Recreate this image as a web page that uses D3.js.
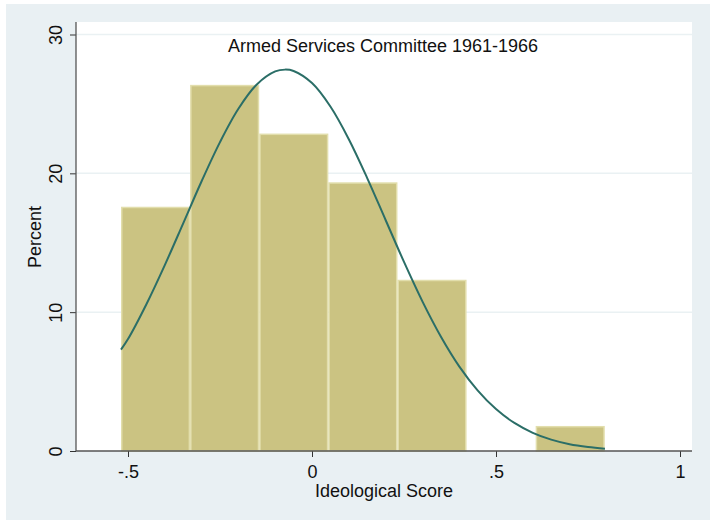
<!DOCTYPE html>
<html><head><meta charset="utf-8">
<script src="https://cdn.jsdelivr.net/npm/d3@7"></script>
<style>body{margin:0;background:#fff}svg{display:block}text{font-family:"Liberation Sans",Arial,sans-serif;fill:#111}</style>
</head><body>
<script>
const title = "Armed Services Committee 1961-1966";
const xLabel = "Ideological Score";
const yLabel = "Percent";
// histogram bins (left edges) and percents
const binStart = -0.519, binWidth = 0.1878;
const binPercents = [17.54, 26.32, 22.81, 19.30, 12.28, 0, 1.75];
// overlaid normal density curve
const curveX = [-0.519,-0.5,-0.45,-0.4,-0.35,-0.3,-0.25,-0.2,-0.15,-0.1,-0.073,-0.05,0,0.05,0.1,0.15,0.2,0.25,0.3,0.35,0.4,0.45,0.5,0.55,0.6,0.65,0.7,0.75,0.796];
const curveY = [7.3,8.06,10.57,13.39,16.4,19.43,22.25,24.65,26.4,27.34,27.47,27.37,26.5,24.81,22.46,19.66,16.64,13.62,10.78,8.25,6.1,4.37,3.02,2.02,1.31,0.82,0.49,0.29,0.17];
const xTicks = [-0.5, 0, 0.5, 1];
const xTickLabels = ["-.5", "0", ".5", "1"];
const yTicks = [0, 10, 20, 30];

const W = 710, H = 520;
const FONT = '"Liberation Sans",Arial,sans-serif';
const svg = d3.select("body").append("svg").attr("width", W).attr("height", H);
svg.append("rect").attr("x", 6).attr("y", 4).attr("width", W - 6).attr("height", H - 4).attr("fill", "#e9f0f3");
const L = 76, R = 692, T = 22, B = 451;
svg.append("rect").attr("x", L).attr("y", T).attr("width", R - L).attr("height", B - T).attr("fill", "#fff");

const x = d3.scaleLinear().domain([-0.5, 1]).range([128, 680]);
const y = d3.scaleLinear().domain([0, 30]).range([B, 34.5]);

// gridlines
svg.append("g").selectAll("line").data(yTicks.filter(d => d > 0)).join("line")
  .attr("x1", L).attr("x2", R).attr("y1", d => y(d)).attr("y2", d => y(d))
  .attr("stroke", "#eaf1f3").attr("stroke-width", 1.5);

// bars
const bins = binPercents.map((p, i) => ({x0: binStart + i * binWidth, x1: binStart + (i + 1) * binWidth, p}));
svg.append("g").selectAll("rect").data(bins.filter(d => d.p > 0)).join("rect")
  .attr("x", d => x(d.x0) + 0.75).attr("width", d => x(d.x1) - x(d.x0) - 1.5)
  .attr("y", d => y(d.p)).attr("height", d => B - y(d.p))
  .attr("fill", "#cbc382").attr("stroke", "#e2deac").attr("stroke-width", 1.5);

// curve
const line = d3.line().x((d, i) => x(curveX[i])).y(d => y(d)).curve(d3.curveCatmullRom);
svg.append("path").attr("d", line(curveY)).attr("fill", "none").attr("stroke", "#2b6e67").attr("stroke-width", 2);

// axes
const xAxis = d3.axisBottom(x).tickValues(xTicks).tickFormat((d, i) => xTickLabels[i]).tickSize(6).tickSizeOuter(0);
const gx = svg.append("g").attr("transform", `translate(0,${B})`).call(xAxis);
gx.select(".domain").remove();
gx.append("line").attr("x1", L).attr("x2", R).attr("stroke", "#555").attr("stroke-width", 1.3);
gx.selectAll(".tick line").attr("stroke", "#333");
gx.selectAll(".tick text").attr("font-size", 18).attr("y", 27).attr("dy", 0).style("fill", "#111").style("font-family", FONT);

const yAxis = d3.axisLeft(y).tickValues(yTicks).tickSize(6).tickSizeOuter(0);
const gy = svg.append("g").attr("transform", `translate(${L},0)`).call(yAxis);
gy.select(".domain").remove();
gy.append("line").attr("y1", T).attr("y2", B).attr("stroke", "#555").attr("stroke-width", 1.3);
gy.selectAll(".tick line").attr("stroke", "#333");
gy.selectAll(".tick text").attr("font-size", 18).attr("x", 0).attr("dy", 0).attr("text-anchor", "middle")
  .attr("transform", "translate(-14,0) rotate(-90)").style("fill", "#111").style("font-family", FONT);

svg.append("text").attr("x", 383).attr("y", 52).attr("text-anchor", "middle").attr("font-size", 18).text(title);
svg.append("text").attr("x", 384).attr("y", 497).attr("text-anchor", "middle").attr("font-size", 18).text(xLabel);
svg.append("text").attr("transform", "translate(41,237) rotate(-90)").attr("text-anchor", "middle").attr("font-size", 18).text(yLabel);
</script>
</body></html>
